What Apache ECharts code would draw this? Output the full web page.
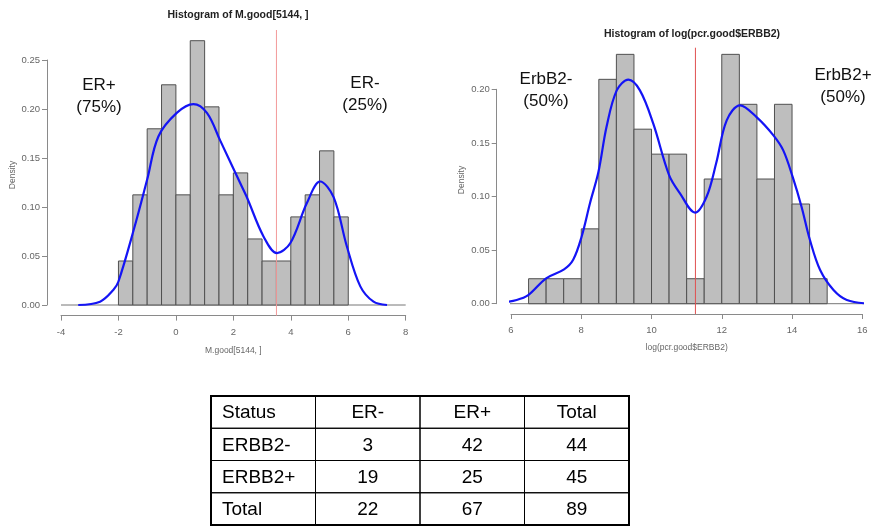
<!DOCTYPE html>
<html>
<head>
<meta charset="utf-8">
<script src="https://cdn.jsdelivr.net/npm/echarts@6/dist/echarts.min.js"></script>
<style>
  html, body { margin: 0; padding: 0; background: #fff; }
  #chart { width: 876px; height: 527px; }
</style>
</head>
<body>
<div id="chart"></div>
<script>
// ---- M.good[5144, ] : histogram (bin width 0.5) and density estimate ----
const erBreaks = [-2, -1.5, -1, -0.5, 0, 0.5, 1, 1.5, 2, 2.5, 3, 3.5, 4, 4.5, 5, 5.5, 6];
const erDensity = [0.0449, 0.1124, 0.1798, 0.2247, 0.1124, 0.2697, 0.2022, 0.1124,
                   0.1348, 0.0674, 0.0449, 0.0449, 0.0899, 0.1124, 0.1573, 0.0899];
const erKdeX = [-3.4, -2.64, -2.18, -2.0, -1.47, -1.0, -0.61, 0.03, 0.61, 1.08, 1.54, 2.18,
                2.47, 3.05, 3.52, 3.98, 4.56, 5.02, 5.49, 5.95, 6.42, 6.88, 7.35];
const erKdeY = [0, 0.0034, 0.0153, 0.024, 0.0765, 0.128, 0.172, 0.196, 0.205, 0.196, 0.168, 0.128,
                0.11, 0.07, 0.053, 0.063, 0.104, 0.126, 0.11, 0.06, 0.019, 0.0034, 0];
const erCutoff = 3.5;
const erXTicks = [-4, 8, 2];          // min, max, step
const erYTicks = [0, 0.25, 0.05];
const erBaseline = [-4, 8];
const erPlotY = [-0.0108, 0.2806];

// ---- log(pcr.good$ERBB2) : histogram and density estimate ----
const erbbBreaks = [6.5, 7, 7.5, 8, 8.5, 9, 9.5, 10, 10.5, 11, 11.5, 12, 12.5, 13, 13.5, 14, 14.5, 15];
const erbbDensity = [0.0233, 0.0233, 0.0233, 0.0698, 0.2093, 0.2326, 0.1628, 0.1395, 0.1395,
                     0.0233, 0.1163, 0.2326, 0.186, 0.1163, 0.186, 0.093, 0.0233];
const erbbKdeX = [5.59, 6.16, 6.49, 7.0, 7.51, 7.77, 8.01, 8.25, 8.49, 8.72, 9.01, 9.34, 9.67,
                  10.05, 10.5, 10.81, 11.24, 11.57, 11.84, 12.14, 12.52, 12.99, 13.47, 13.75,
                  14.02, 14.27, 14.51, 14.8, 15.18, 15.56, 16.22];
const erbbKdeY = [0, 0.0035, 0.008, 0.0237, 0.032, 0.041, 0.0625, 0.094, 0.123, 0.165, 0.199, 0.209, 0.199,
                  0.168, 0.12, 0.103, 0.085, 0.1, 0.131, 0.171, 0.185, 0.174, 0.157, 0.143,
                  0.118, 0.0905, 0.0594, 0.0314, 0.0128, 0.0035, 0];
const erbbCutoff = 11.25;
const erbbXTicks = [6, 16, 2];
const erbbYTicks = [0, 0.2, 0.05];
const erbbBaseline = [5.59, 16.4];
const erbbPlotY = [-0.0096, 0.2388];

// ---- ERBB2 vs ER cross table ----
const tableHeader = ['Status', 'ER-', 'ER+', 'Total'];
const rowLabels = ['ERBB2-', 'ERBB2+', 'Total'];
const erNegCounts = [3, 19, 22];
const erPosCounts = [42, 25, 67];
const rowTotals = [44, 45, 89];

const FONT = '"Liberation Sans", Arial, Helvetica, sans-serif';
const AXIS_GREY = '#8a8a8a';
const LABEL_GREY = '#666';

const chart = echarts.init(document.getElementById('chart'), null, { renderer: 'canvas' });

function histItem(params, api) {
  const p0 = api.coord([api.value(0), 0]);
  const p1 = api.coord([api.value(1), api.value(2)]);
  return {
    type: 'rect',
    shape: { x: p0[0], y: p1[1], width: p1[0] - p0[0], height: p0[1] - p1[1] },
    style: { fill: '#bebebe', stroke: '#505050', lineWidth: 1 }
  };
}

function binData(breaks, dens) {
  return dens.map((d, i) => [breaks[i], breaks[i + 1], d]);
}
function pairs(xs, ys) {
  return xs.map((x, i) => [x, ys[i]]);
}

function xAxisFor(ticks, gridIndex, offset, name, nameGap, labelMargin) {
  return {
    type: 'value', gridIndex, min: ticks[0], max: ticks[1], interval: ticks[2],
    offset, name, nameLocation: 'middle', nameGap,
    nameTextStyle: { color: LABEL_GREY, fontFamily: FONT, fontSize: 8.5 },
    axisLine: { show: true, onZero: false, lineStyle: { color: AXIS_GREY, width: 1 } },
    axisTick: { show: true, length: 5, lineStyle: { color: AXIS_GREY } },
    axisLabel: { color: LABEL_GREY, fontFamily: FONT, fontSize: 9.5, margin: labelMargin },
    splitLine: { show: false },
    axisPointer: { show: false }
  };
}
function yAxisFor(ticks, gridIndex, offset) {
  return {
    type: 'value', gridIndex, min: ticks[0], max: ticks[1], interval: ticks[2],
    offset,
    axisLine: { show: true, onZero: false, lineStyle: { color: AXIS_GREY, width: 1 } },
    axisTick: { show: true, length: 5, lineStyle: { color: AXIS_GREY } },
    axisLabel: { color: LABEL_GREY, fontFamily: FONT, fontSize: 9.5, margin: 7,
                 formatter: v => v.toFixed(2) },
    splitLine: { show: false },
    axisPointer: { show: false }
  };
}

function panelSeries(idx, breaks, dens, kx, ky, cutoff, baseline, plotY, cutColor) {
  return [
    {
      type: 'line', xAxisIndex: idx, yAxisIndex: idx, clip: false, silent: true,
      data: [[baseline[0], 0], [baseline[1], 0]], symbol: 'none',
      lineStyle: { color: '#777', width: 1 }, z: 1
    },
    {
      type: 'custom', xAxisIndex: idx, yAxisIndex: idx, clip: false, silent: true,
      renderItem: histItem, encode: { x: [0, 1], y: 2 },
      data: binData(breaks, dens), z: 2
    },
    {
      type: 'line', xAxisIndex: idx, yAxisIndex: idx, clip: false, silent: true,
      data: [[cutoff, plotY[0]], [cutoff, plotY[1]]], symbol: 'none',
      lineStyle: { color: cutColor, width: 1 }, z: 3
    },
    {
      type: 'line', xAxisIndex: idx, yAxisIndex: idx, clip: false, smooth: 0.35, silent: true,
      data: pairs(kx, ky), symbol: 'none',
      lineStyle: { color: '#1414f5', width: 2.2 }, z: 4
    }
  ];
}

function cellRows() {
  const rows = [tableHeader];
  rowLabels.forEach((lab, i) => {
    rows.push([lab, String(erNegCounts[i]), String(erPosCounts[i]), String(rowTotals[i])]);
  });
  const out = [];
  rows.forEach((row, r) => row.forEach((txt, c) => out.push([c, r, txt])));
  return out;
}
const cells = cellRows();

function cellItem(params, api) {
  const c = api.value(0), r = api.value(1);
  const txt = cells[params.dataIndex][2];
  const p0 = api.coord([c, r]);
  const p1 = api.coord([c + 1, r + 1]);
  const left = c === 0;
  const tx = left ? p0[0] + 11 : (p0[0] + p1[0]) / 2;
  const ty = (p0[1] + p1[1]) / 2 + 1;
  return {
    type: 'group',
    children: [
      { type: 'rect',
        shape: { x: p0[0], y: p0[1], width: p1[0] - p0[0], height: p1[1] - p0[1] },
        style: { fill: 'none', stroke: '#000', lineWidth: 1 } },
      { type: 'text',
        style: { text: txt, x: tx, y: ty, fill: '#000', font: '19px ' + FONT,
                 align: left ? 'left' : 'center', verticalAlign: 'middle',
                 textAlign: left ? 'left' : 'center', textVerticalAlign: 'middle' } }
    ]
  };
}

function note(text, x, y) {
  return {
    type: 'text', silent: true,
    style: { text, x, y, fill: '#111', font: '17px ' + FONT, lineHeight: 22,
             align: 'center', verticalAlign: 'middle',
             textAlign: 'center', textVerticalAlign: 'middle' }
  };
}

// rotated "Density" label beside each y axis
function densityLabel(x, y) {
  return {
    type: 'text', silent: true, x, y, rotation: Math.PI / 2,
    style: { text: 'Density', fill: LABEL_GREY, font: '8.5px ' + FONT,
             align: 'center', verticalAlign: 'middle',
             textAlign: 'center', textVerticalAlign: 'middle' }
  };
}

const option = {
  animation: false,
  backgroundColor: '#fff',
  tooltip: { show: false },
  title: [
    { text: 'Histogram of M.good[5144, ]', left: 233, top: 5, textAlign: 'center',
      textStyle: { fontFamily: FONT, fontSize: 10.5, fontWeight: 'bold', color: '#222' } },
    { text: 'Histogram of log(pcr.good$ERBB2)', left: 687, top: 24, textAlign: 'center',
      textStyle: { fontFamily: FONT, fontSize: 10.5, fontWeight: 'bold', color: '#222' } }
  ],
  grid: [
    { left: 61, right: 470.3, top: 60, bottom: 222 },
    { left: 511, right: 13.7, top: 89.3, bottom: 223.3 },
    { left: 211, top: 396, width: 418, height: 129, show: true,
      borderColor: '#000', borderWidth: 2, backgroundColor: 'transparent' }
  ],
  xAxis: [
    xAxisFor(erXTicks, 0, 10.6, 'M.good[5144, ]', 31, 12),
    xAxisFor(erbbXTicks, 1, 10.3, 'log(pcr.good$ERBB2)', 29, 11),
    { type: 'value', gridIndex: 2, min: 0, max: 4, show: false }
  ],
  yAxis: [
    yAxisFor(erYTicks, 0, 14),
    yAxisFor(erbbYTicks, 1, 14.3),
    { type: 'value', gridIndex: 2, min: 0, max: 4, inverse: true, show: false }
  ],
  series: [
    ...panelSeries(0, erBreaks, erDensity, erKdeX, erKdeY, erCutoff, erBaseline, erPlotY, '#f39a9a'),
    ...panelSeries(1, erbbBreaks, erbbDensity, erbbKdeX, erbbKdeY, erbbCutoff, erbbBaseline, erbbPlotY, '#e05050'),
    {
      type: 'custom', xAxisIndex: 2, yAxisIndex: 2, renderItem: cellItem, silent: true,
      encode: { x: 0, y: 1 }, data: cells.map(d => [d[0], d[1]]), z: 5
    }
  ],
  graphic: [
    densityLabel(13, 175),
    densityLabel(462, 180),
    note('ER+\n(75%)', 99, 96),
    note('ER-\n(25%)', 365, 94),
    note('ErbB2-\n(50%)', 546, 90),
    note('ErbB2+\n(50%)', 843, 86)
  ]
};

chart.setOption(option);
</script>
</body>
</html>
